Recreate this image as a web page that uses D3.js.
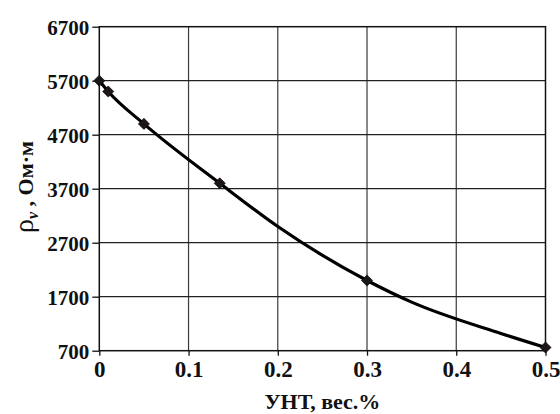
<!DOCTYPE html>
<html>
<head>
<meta charset="utf-8">
<script src="https://cdn.jsdelivr.net/npm/d3@7"></script>
<style>
  html, body { margin: 0; padding: 0; background: #fff; }
  svg { display: block; }
</style>
</head>
<body>
<svg id="chart" width="560" height="414"></svg>
<script>
// Measured resistivity vs. CNT content
const measuredX = [0, 0.01, 0.05, 0.135, 0.3, 0.5];
const measuredRho = [5700, 5500, 4900, 3800, 2000, 760];

// Smoothed trend line through the data
const curveX = [0, 0.01, 0.05, 0.135, 0.2, 0.3, 0.35, 0.45, 0.5];
const curveRho = [5700, 5500, 4900, 3800, 3000, 2000, 1600, 1020, 760];

// Axis ticks
const xTicks = [0, 0.1, 0.2, 0.3, 0.4, 0.5];
const xTickLabels = ["0", "0.1", "0.2", "0.3", "0.4", "0.5"];
const yTicks = [700, 1700, 2700, 3700, 4700, 5700, 6700];

const SERIF = '"Liberation Serif"';
const svg = d3.select("#chart");
const plotL = 99.3, plotR = 545.5, plotT = 26.7, plotB = 350.7;

const x = d3.scaleLinear().domain([0, 0.5]).range([plotL, plotR]);
const y = d3.scaleLinear().domain([700, 6700]).range([plotB, plotT]);

// Grid lines
const grid = svg.append("g");
grid.selectAll("line.v").data(xTicks.slice(1, -1)).join("line")
  .attr("class", "v")
  .attr("x1", d => x(d)).attr("x2", d => x(d))
  .attr("y1", plotT).attr("y2", plotB)
  .attr("stroke", "#3a3a3a").attr("stroke-width", 1.2);
grid.selectAll("line.h").data(yTicks.slice(1, -1)).join("line")
  .attr("class", "h")
  .attr("x1", plotL).attr("x2", plotR)
  .attr("y1", d => y(d)).attr("y2", d => y(d))
  .attr("stroke", "#222").attr("stroke-width", 1.2);

// Plot frame
svg.append("rect")
  .attr("x", plotL).attr("y", plotT)
  .attr("width", plotR - plotL).attr("height", plotB - plotT)
  .attr("fill", "none").attr("stroke", "#111").attr("stroke-width", 1.5);

// Y axis
const yAxis = d3.axisLeft(y).tickValues(yTicks).tickSize(7).tickPadding(3)
  .tickFormat(d3.format("d"));
const gy = svg.append("g").attr("transform", `translate(${plotL},0)`).call(yAxis);
gy.attr("font-family", null);
gy.select(".domain").remove();
gy.selectAll(".tick line").attr("stroke", "#111").attr("stroke-width", 1.3);
gy.selectAll(".tick text")
  .style("font-family", SERIF).style("font-weight", "bold").style("font-size", "21px")
  .attr("fill", "#111").attr("dy", "0.35em");

// X axis
const xAxis = d3.axisBottom(x).tickValues(xTicks).tickSize(5).tickPadding(5)
  .tickFormat((d, i) => xTickLabels[i]);
const gx = svg.append("g").attr("transform", `translate(0,${plotB})`).call(xAxis);
gx.attr("font-family", null);
gx.select(".domain").remove();
gx.selectAll(".tick line").attr("stroke", "#111").attr("stroke-width", 1.3);
gx.selectAll(".tick text")
  .style("font-family", SERIF).style("font-weight", "bold").style("font-size", "23px")
  .attr("fill", "#111");

// Trend line
const curvePts = curveX.map((d, i) => [d, curveRho[i]]);
svg.append("path")
  .datum(curvePts)
  .attr("fill", "none").attr("stroke", "#000").attr("stroke-width", 3.2)
  .attr("stroke-linejoin", "round")
  .attr("d", d3.line().x(d => x(d[0])).y(d => y(d[1])).curve(d3.curveMonotoneX));

// Diamond markers
const pts = measuredX.map((d, i) => [d, measuredRho[i]]);
svg.append("g").selectAll("path").data(pts).join("path")
  .attr("d", d3.symbol(d3.symbolSquare, 62)())
  .attr("transform", d => `translate(${x(d[0])},${y(d[1])}) rotate(45)`)
  .attr("fill", "#1c1616").attr("stroke", "#000").attr("stroke-width", 0.6);

// Axis titles
svg.append("text")
  .attr("x", (plotL + plotR) / 2).attr("y", 409)
  .attr("text-anchor", "middle")
  .style("font-family", SERIF).style("font-weight", "bold").style("font-size", "22px")
  .attr("fill", "#111")
  .text("УНТ, вес.%");

const yt = svg.append("text")
  .attr("transform", `translate(33,187) rotate(-90)`)
  .attr("text-anchor", "middle")
  .style("font-family", SERIF)
  .attr("fill", "#111");
yt.append("tspan").style("font-size", "28px").style("font-weight", "normal").text("ρ");
yt.append("tspan").style("font-size", "16px").style("font-style", "italic").style("font-weight", "bold")
  .attr("dy", 5).text("v");
yt.append("tspan").style("font-size", "22px").style("font-weight", "bold").attr("dy", -5).text(" , Ом·м");
</script>
</body>
</html>
